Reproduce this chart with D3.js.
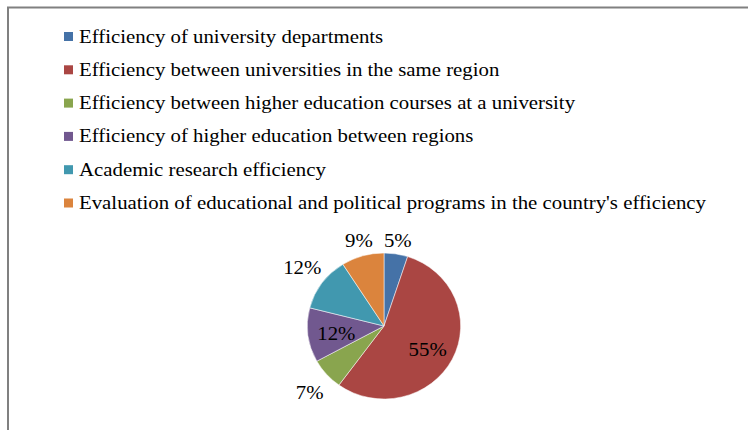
<!DOCTYPE html>
<html>
<head>
<meta charset="utf-8">
<script src="https://cdn.jsdelivr.net/npm/d3@7"></script>
<style>
  body { margin: 0; background: #fff; }
</style>
</head>
<body>
<script>
var categories = [
  "Efficiency of university departments",
  "Efficiency between universities in the same region",
  "Efficiency between higher education courses at a university",
  "Efficiency of higher education between regions",
  "Academic research efficiency",
  "Evaluation of educational and political programs in the country's efficiency"
];
var values = [5, 55, 7, 12, 12, 9];
var colors = ["#4572A7", "#AA4643", "#89A54E", "#71588F", "#4198AF", "#DB843D"];

var width = 748, height = 430;
// the source picture is a bit stretched sideways
var stretch = "scale(1.096,1)";

var svg = d3.select("body").append("svg")
    .attr("width", width)
    .attr("height", height)
    .attr("font-family", "'Liberation Serif', 'Times New Roman', Times, serif");

// chart area border, runs off the right and bottom edge
svg.append("rect")
    .attr("x", 8)
    .attr("y", 7.5)
    .attr("width", 800)
    .attr("height", 500)
    .style("fill", "none")
    .style("stroke", "#808080")
    .style("stroke-width", 2);

// legend
var legend = svg.append("g").attr("transform", "translate(64,32)");
var rows = legend.selectAll("g").data(categories).enter().append("g")
    .attr("transform", function(d, i) { return "translate(0," + (i * 33.3) + ")"; });
rows.append("rect")
    .attr("width", 9)
    .attr("height", 9)
    .style("fill", function(d, i) { return colors[i]; });
rows.append("text")
    .attr("transform", "translate(15,10.5) " + stretch)
    .style("font-size", "19px")
    .style("fill", "#000")
    .text(function(d) { return d; });

// pie
var cx = 384, cy = 326, r = 73;
var pie = d3.pie().sort(null).value(function(d) { return d; });
var arc = d3.arc().innerRadius(0).outerRadius(r);
var arcs = pie(values);

var g = svg.append("g").attr("transform", "translate(" + cx + "," + cy + ") scale(1.05,1)");
g.selectAll("path").data(arcs).enter().append("path")
    .attr("d", arc)
    .style("fill", function(d, i) { return colors[i]; })
    .style("stroke", "#fff")
    .style("stroke-width", 0.5);

// label distance from centre per slice
var labelR = [88, 49, 99, 48, 101, 90];
var lg = svg.append("g").attr("transform", "translate(" + cx + "," + (cy + 1) + ")");
lg.selectAll("text").data(arcs).enter().append("text")
    .attr("transform", function(d, i) {
      var a = (d.startAngle + d.endAngle) / 2;
      return "translate(" + (Math.sin(a) * labelR[i]) + "," + (-Math.cos(a) * labelR[i]) + ") " + stretch;
    })
    .attr("text-anchor", "middle")
    .attr("dy", "0.35em")
    .style("font-size", "19px")
    .style("fill", "#000")
    .text(function(d) { return d.data + "%"; });
</script>
</body>
</html>
